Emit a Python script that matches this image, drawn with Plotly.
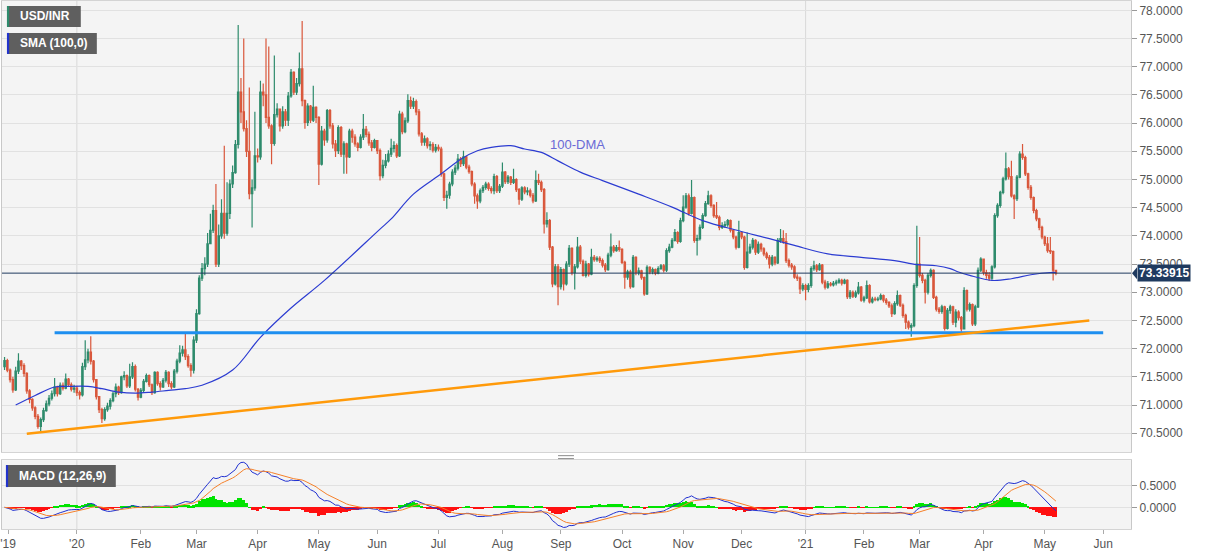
import numpy as np
import pandas as pd
import plotly.graph_objects as go

# ---------------- data ----------------
dates = pd.bdate_range("2019-11-26", "2021-05-07")  # daily candles (weekdays)

first_open = 71.68
close = [
    71.79, 71.62, 71.45, 71.27,
    71.60, 71.78, 71.70, 71.56, 71.25,
    71.10, 70.95, 70.80, 70.62, 70.74,
    70.90, 71.02, 71.12, 71.20, 71.32,
    71.20, 71.35, 71.30, 71.46, 71.36,
    71.28, 71.30, 71.22, 71.18, 71.68,
    71.80, 71.94, 71.78, 71.45, 71.15,
    70.92, 70.76, 70.92, 70.98, 71.08,
    71.20, 71.32, 71.22, 71.50, 71.52,
    71.34, 71.50, 71.68, 71.28, 71.14,
    71.26, 71.42, 71.52, 71.36, 71.22,
    71.58, 71.38, 71.32, 71.44, 71.58,
    71.38, 71.32, 71.60, 71.78, 71.92,
    71.98, 71.86, 71.70, 71.62, 72.15,
    72.62, 73.25, 73.42, 73.50, 73.86,
    74.10, 74.45, 73.50, 74.00, 74.40,
    74.05, 74.40, 74.92, 75.12, 75.62,
    76.55, 76.20, 75.90, 75.50, 74.75,
    74.85, 75.42, 75.40, 76.55, 76.50,
    76.10, 75.95, 75.64, 76.15, 76.25,
    75.95, 76.20, 76.05, 76.48, 76.90,
    76.55, 76.70, 76.96, 76.40, 76.01,
    76.30, 76.05, 76.28, 76.10, 75.27,
    75.86, 75.70, 76.22, 75.95, 75.63,
    75.51, 75.92, 75.45, 75.63, 75.40,
    75.86, 75.75, 75.63, 75.57, 75.75,
    75.89, 75.80, 75.65, 75.57, 75.69,
    75.51, 75.07, 75.25, 75.33, 75.45,
    75.55, 75.60, 75.42, 76.16, 75.85,
    76.04, 76.40, 76.30, 76.38, 76.20,
    75.81, 75.66, 75.72, 75.60, 75.62,
    75.52, 75.57, 75.54, 75.10, 74.68,
    74.72, 74.92, 75.13, 75.20, 75.36,
    75.28, 75.40, 75.22, 75.14, 74.92,
    74.71, 74.62, 74.80, 74.86, 74.92,
    74.84, 74.80, 75.05, 74.80, 74.88,
    75.13, 74.96, 75.04, 74.95, 75.00,
    74.82, 74.65, 74.85, 74.78, 74.80,
    74.72, 74.62, 74.98, 74.95, 74.82,
    74.21, 74.27, 73.80, 73.15, 73.45,
    73.10, 73.40, 73.15, 73.50, 73.78,
    73.35, 73.45, 73.80, 73.55, 73.30,
    73.50, 73.32, 73.62, 73.58, 73.60,
    73.56, 73.48, 73.40, 73.66, 73.80,
    73.74, 73.79, 73.76, 73.53, 73.27,
    73.36, 73.10, 73.62, 73.35, 73.38,
    73.26, 72.97, 73.44, 73.36, 73.40,
    73.34, 73.42, 73.47, 73.39, 73.74,
    73.80, 73.92, 74.06, 73.90, 74.27,
    74.51, 74.71, 74.40, 74.68, 73.92,
    73.95, 74.15, 74.36, 74.57, 74.71,
    74.54, 74.36, 74.33, 74.15, 74.18,
    74.20, 74.27, 74.10, 73.98, 73.80,
    74.06, 73.98, 73.44, 73.71, 73.80,
    73.92, 73.71, 73.85, 73.77, 73.68,
    73.62, 73.50, 73.62, 73.52, 73.92,
    73.95, 73.90, 73.56, 73.48, 73.45,
    73.27, 73.25, 73.06, 73.12, 73.05,
    73.12, 73.42, 73.47, 73.40, 73.48,
    73.18, 73.09, 73.15, 73.13, 73.16,
    73.18, 73.21, 73.16, 73.21, 72.92,
    73.00, 72.93, 72.99, 73.09, 72.86,
    72.90, 73.12, 72.83, 72.88, 72.87,
    72.88, 72.94, 72.86, 72.82, 72.76,
    72.62, 72.80, 72.94, 72.77, 72.59,
    72.47, 72.38, 72.41, 73.12, 73.50,
    73.30, 73.21, 73.00, 73.30, 73.39,
    72.91, 72.70, 72.66, 72.74, 72.36,
    72.68, 72.74, 72.47, 72.65, 72.55,
    72.35, 73.03, 72.70, 72.78, 72.44,
    72.74, 73.39, 73.59, 73.35, 73.30,
    73.25, 73.45, 74.36, 74.54, 74.77,
    75.01, 75.19, 75.05, 74.71, 74.66,
    75.04, 75.45, 75.39, 75.10, 74.86,
    74.68, 74.45, 74.30, 74.15, 73.98,
    73.86, 73.74, 73.72, 73.39, 73.33915,
]
high = [
    71.85, 71.82, 71.65, 71.50,
    71.68, 71.92, 71.80, 71.74, 71.58,
    71.28, 71.12, 70.98, 70.84, 70.78,
    70.95, 71.08, 71.18, 71.26, 71.48,
    71.34, 71.40, 71.40, 71.56, 71.48,
    71.40, 71.36, 71.34, 71.26, 71.75,
    72.15, 72.00, 72.22, 71.80, 71.46,
    71.16, 70.95, 70.96, 71.04, 71.12,
    71.24, 71.38, 71.34, 71.52, 71.60,
    71.54, 71.73, 71.76, 71.72, 71.30,
    71.30, 71.46, 71.56, 71.54, 71.38,
    71.60, 71.60, 71.42, 71.48, 71.62,
    71.60, 71.42, 71.64, 71.82, 72.06,
    72.05, 72.27, 71.90, 71.74, 72.22,
    72.70, 73.30, 73.52, 73.62, 74.05,
    74.39, 74.55, 74.92, 74.20, 74.65,
    75.60, 74.95, 75.00, 75.25, 75.70,
    77.74, 76.80, 77.50, 76.05, 76.63,
    75.00, 76.20, 75.55, 76.75, 76.70,
    77.50, 77.36, 75.98, 77.20, 76.35,
    76.25, 76.30, 76.25, 76.55, 76.96,
    76.92, 76.80, 77.25, 77.81, 76.42,
    76.35, 76.32, 76.66, 76.30, 76.12,
    75.95, 75.90, 76.25, 76.25, 76.00,
    75.70, 75.96, 75.95, 75.68, 75.65,
    75.90, 75.90, 75.80, 75.66, 75.80,
    76.16, 75.95, 75.85, 75.70, 75.72,
    75.70, 75.55, 75.35, 75.45, 75.52,
    75.72, 75.68, 75.64, 76.22, 76.20,
    76.10, 76.51, 76.47, 76.45, 76.42,
    76.25, 75.84, 75.78, 75.75, 75.68,
    75.66, 75.63, 75.62, 75.58, 75.12,
    74.80, 74.96, 75.18, 75.26, 75.45,
    75.40, 75.51, 75.42, 75.26, 75.16,
    74.95, 74.75, 74.84, 74.90, 74.96,
    74.95, 74.88, 75.10, 75.08, 74.92,
    75.30, 75.15, 75.08, 75.06, 75.19,
    75.02, 74.85, 74.88, 74.88, 74.86,
    74.84, 74.76, 75.16, 75.10, 74.98,
    74.85, 74.42, 74.30, 73.82, 73.50,
    73.50, 73.45, 73.42, 73.55, 73.84,
    73.80, 73.50, 73.98, 73.84, 73.58,
    73.56, 73.52, 73.77, 73.66, 73.64,
    73.64, 73.60, 73.52, 73.70, 74.04,
    73.84, 73.84, 73.92, 73.78, 73.56,
    73.40, 73.40, 73.66, 73.64, 73.44,
    73.40, 73.28, 73.48, 73.46, 73.44,
    73.42, 73.46, 73.50, 73.50, 73.78,
    73.86, 73.96, 74.12, 74.08, 74.32,
    74.72, 74.76, 74.75, 74.99, 74.70,
    74.02, 74.20, 74.40, 74.62, 74.80,
    74.74, 74.56, 74.60, 74.36, 74.24,
    74.26, 74.30, 74.29, 74.12, 74.00,
    74.27, 74.08, 74.00, 74.06, 73.86,
    73.96, 73.94, 73.90, 73.88, 73.80,
    73.72, 73.66, 73.66, 73.64, 73.96,
    74.12, 74.10, 74.05, 73.60, 73.52,
    73.48, 73.32, 73.28, 73.16, 73.15,
    73.16, 73.46, 73.56, 73.50, 73.52,
    73.50, 73.22, 73.20, 73.18, 73.20,
    73.22, 73.25, 73.24, 73.24, 73.23,
    73.04, 73.03, 73.03, 73.18, 73.11,
    72.94, 73.21, 73.14, 72.92, 72.92,
    72.92, 72.98, 72.96, 72.90, 72.84,
    72.80, 72.84, 73.03, 72.96, 72.80,
    72.62, 72.50, 72.45, 73.16, 74.18,
    73.98, 73.34, 73.24, 73.34, 73.42,
    73.41, 72.94, 72.74, 72.78, 72.76,
    72.72, 72.78, 72.76, 72.70, 72.68,
    72.58, 73.09, 73.05, 72.82, 72.80,
    72.78, 73.44, 73.62, 73.60, 73.40,
    73.36, 73.48, 74.40, 74.58, 74.80,
    75.05, 75.48, 75.22, 75.33, 74.74,
    75.08, 75.50, 75.63, 75.42, 75.12,
    74.90, 74.70, 74.48, 74.32, 74.18,
    74.00, 73.98, 73.98, 73.74, 73.40,
]
low = [
    71.62, 71.58, 71.40, 71.22,
    71.25, 71.55, 71.62, 71.50, 71.20,
    71.03, 70.90, 70.75, 70.58, 70.54,
    70.70, 70.88, 70.98, 71.08, 71.15,
    71.15, 71.18, 71.26, 71.28, 71.32,
    71.24, 71.22, 71.16, 71.10, 71.15,
    71.62, 71.74, 71.72, 71.40, 71.10,
    70.86, 70.68, 70.72, 70.88, 70.92,
    71.05, 71.14, 71.18, 71.20, 71.44,
    71.30, 71.30, 71.46, 71.24, 71.08,
    71.12, 71.22, 71.40, 71.32, 71.18,
    71.20, 71.34, 71.26, 71.30, 71.40,
    71.32, 71.28, 71.30, 71.56, 71.74,
    71.86, 71.80, 71.66, 71.50, 71.56,
    72.10, 72.60, 73.20, 73.30, 73.45,
    73.85, 74.05, 73.45, 73.45, 73.95,
    73.95, 74.00, 74.30, 74.85, 75.10,
    75.55, 76.00, 75.85, 75.40, 74.65,
    74.15, 74.80, 75.30, 75.35, 76.30,
    76.00, 75.90, 75.27, 75.60, 76.10,
    75.85, 75.90, 75.95, 75.95, 76.45,
    76.50, 76.50, 76.65, 76.30, 75.90,
    75.95, 76.00, 76.02, 76.00, 74.90,
    75.25, 75.60, 75.65, 75.90, 75.55,
    75.40, 75.45, 75.40, 75.10, 75.10,
    75.38, 75.65, 75.58, 75.50, 75.55,
    75.70, 75.75, 75.60, 75.50, 75.55,
    75.45, 74.98, 75.02, 75.20, 75.30,
    75.40, 75.48, 75.38, 75.40, 75.80,
    75.82, 76.00, 76.25, 76.25, 76.14,
    75.76, 75.60, 75.60, 75.55, 75.52,
    75.48, 75.48, 75.50, 75.05, 74.62,
    74.48, 74.66, 74.88, 75.08, 75.16,
    75.22, 75.24, 75.18, 75.10, 74.88,
    74.57, 74.48, 74.58, 74.76, 74.82,
    74.80, 74.75, 74.74, 74.76, 74.76,
    74.85, 74.92, 74.92, 74.90, 74.92,
    74.78, 74.55, 74.62, 74.74, 74.72,
    74.68, 74.58, 74.60, 74.90, 74.78,
    74.04, 74.15, 73.75, 73.09, 73.12,
    72.77, 73.05, 73.03, 73.12, 73.45,
    73.30, 73.05, 73.42, 73.50, 73.28,
    73.26, 73.28, 73.30, 73.54, 73.54,
    73.52, 73.44, 73.36, 73.38, 73.62,
    73.70, 73.72, 73.72, 73.50, 73.06,
    73.22, 73.06, 73.08, 73.30, 73.30,
    73.22, 72.94, 72.95, 73.32, 73.32,
    73.30, 73.32, 73.40, 73.35, 73.36,
    73.70, 73.78, 73.90, 73.86, 73.88,
    74.24, 74.48, 74.36, 74.38, 73.88,
    73.65, 73.92, 74.12, 74.34, 74.55,
    74.50, 74.32, 74.30, 74.10, 74.12,
    74.14, 74.16, 74.06, 73.94, 73.76,
    73.78, 73.94, 73.40, 73.42, 73.68,
    73.76, 73.66, 73.68, 73.72, 73.64,
    73.58, 73.42, 73.46, 73.48, 73.50,
    73.88, 73.86, 73.52, 73.44, 73.40,
    73.24, 73.20, 72.97, 73.02, 72.86,
    73.00, 73.08, 73.38, 73.36, 73.38,
    73.14, 73.05, 73.06, 73.10, 73.10,
    73.12, 73.15, 73.12, 73.14, 72.88,
    72.88, 72.90, 72.90, 72.96, 72.83,
    72.82, 72.88, 72.80, 72.80, 72.84,
    72.84, 72.86, 72.82, 72.78, 72.72,
    72.56, 72.60, 72.76, 72.74, 72.55,
    72.35, 72.34, 72.21, 72.38, 73.08,
    73.26, 73.16, 72.80, 72.96, 73.26,
    72.88, 72.66, 72.62, 72.62, 72.32,
    72.34, 72.62, 72.42, 72.38, 72.50,
    72.30, 72.34, 72.66, 72.66, 72.40,
    72.40, 72.72, 73.36, 73.30, 73.24,
    73.20, 73.22, 73.42, 74.32, 74.50,
    74.74, 74.98, 75.00, 74.68, 74.30,
    74.62, 75.02, 75.35, 75.06, 74.82,
    74.64, 74.40, 74.26, 74.10, 73.94,
    73.82, 73.70, 73.68, 73.21, 73.30,
]

# 100-day SMA (candle index, value)
sma_idx = [4, 11, 18, 23, 30, 35, 41, 47, 53, 59, 65, 71, 82, 92, 103, 115,
           135, 139, 147, 157, 164, 170, 175, 182, 187, 193, 199, 207, 215,
           228, 240, 251, 264, 275, 284, 296, 308, 320, 328, 335, 340, 343,
           347, 355, 362, 369, 376, 378]
sma_val = [71.00, 71.17, 71.32, 71.33, 71.33, 71.29, 71.23, 71.21, 71.23,
           71.26, 71.29, 71.35, 71.62, 72.20, 72.72, 73.21,
           74.12, 74.30, 74.74, 75.10, 75.36, 75.51, 75.57, 75.60, 75.54,
           75.48, 75.33, 75.13, 74.98,
           74.74, 74.51, 74.27, 74.09, 73.95, 73.83, 73.68, 73.62, 73.56,
           73.49, 73.47, 73.42, 73.36,
           73.30, 73.21, 73.24, 73.31, 73.35, 73.35]

support_dates = ["2019-12-20", "2021-06-01"]
support_vals = [72.28, 72.28]
trend_dates = ["2019-12-06", "2021-05-25"]
trend_vals = [70.49, 72.50]
last_price = 73.33915

tick_dates = ["2019-11-27 06:00", "2020-01-01", "2020-02-03", "2020-03-02", "2020-04-01",
              "2020-05-01", "2020-06-01", "2020-07-01", "2020-08-03", "2020-09-01",
              "2020-10-01", "2020-11-02", "2020-12-01", "2021-01-01", "2021-02-01",
              "2021-03-01", "2021-04-01", "2021-05-03", "2021-06-01"]
tick_text = ["'19", "'20", "Feb", "Mar", "Apr", "May", "Jun", "Jul", "Aug", "Sep",
             "Oct", "Nov", "Dec", "'21", "Feb", "Mar", "Apr", "May", "Jun"]
price_ticks = [70.5, 71.0, 71.5, 72.0, 72.5, 73.0, 73.5, 74.0, 74.5, 75.0,
               75.5, 76.0, 76.5, 77.0, 77.5, 78.0]
macd_ticks = [0.0, 0.5]

# ---------------- derived ----------------
assert len(dates) == len(close) == len(high) == len(low)
c = np.array(close)
o = np.array([first_open] + close[:-1])
h = np.maximum.reduce([np.array(high), o, c])
l = np.minimum.reduce([np.array(low), o, c])

s = pd.Series(c)
ema12 = s.ewm(span=12, adjust=False).mean()
ema26 = s.ewm(span=26, adjust=False).mean()
macd = ema12 - ema26
signal = macd.ewm(span=9, adjust=False).mean()
hist = macd - signal
hist_colors = np.where(hist >= 0, "#00e400", "#ff1010")

GREEN = "#2e8b6c"
RED = "#d9573b"
FONT = "Liberation Sans, Arial, sans-serif"
X_RANGE = ["2019-11-25 02:00", "2021-06-15"]
BREAKS = [dict(bounds=["sat", "mon"])]

fig = go.Figure()
fig.add_trace(go.Candlestick(
    x=dates, open=o, high=h, low=l, close=c,
    increasing=dict(line=dict(color=GREEN, width=1.2), fillcolor=GREEN),
    decreasing=dict(line=dict(color=RED, width=1.2), fillcolor=RED),
    whiskerwidth=0, xaxis="x", yaxis="y", showlegend=False, name="USD/INR"))
fig.add_trace(go.Scatter(x=dates[sma_idx], y=sma_val, mode="lines",
                         line=dict(color="#2b3bd1", width=1.2, shape="spline"),
                         xaxis="x", yaxis="y", showlegend=False))
fig.add_trace(go.Scatter(x=support_dates, y=support_vals, mode="lines",
                         line=dict(color="#1e8ff0", width=3),
                         xaxis="x", yaxis="y", showlegend=False))
fig.add_trace(go.Scatter(x=trend_dates, y=trend_vals, mode="lines",
                         line=dict(color="#ff9a0a", width=2.5),
                         xaxis="x", yaxis="y", showlegend=False))
fig.add_trace(go.Bar(x=dates, y=hist, marker=dict(color=hist_colors, line=dict(width=0)),
                     xaxis="x2", yaxis="y2", showlegend=False))
fig.add_trace(go.Scatter(x=dates, y=macd, mode="lines",
                         line=dict(color="#2030d0", width=1),
                         xaxis="x2", yaxis="y2", showlegend=False))
fig.add_trace(go.Scatter(x=dates, y=signal, mode="lines",
                         line=dict(color="#f5802a", width=1),
                         xaxis="x2", yaxis="y2", showlegend=False))

axis_font = dict(family=FONT, size=12, color="#555555")
fig.update_layout(
    width=1207, height=555,
    margin=dict(l=0, r=76, t=0, b=26),
    paper_bgcolor="white", plot_bgcolor="#f4f4f4",
    bargap=0, font=dict(family=FONT),
    xaxis=dict(domain=[0, 1], anchor="y", range=X_RANGE, rangebreaks=BREAKS,
               showticklabels=False, showgrid=False, zeroline=False, ticks="",
               rangeslider=dict(visible=False), showline=True, mirror=True,
               linecolor="#d4d4d4"),
    xaxis2=dict(domain=[0, 1], anchor="y2", range=X_RANGE, rangebreaks=BREAKS,
                tickvals=tick_dates, ticktext=tick_text, ticks="outside", ticklen=4,
                tickcolor="#aaaaaa", tickfont=axis_font, showgrid=False,
                ticklabeloverflow="allow",
                zeroline=False, showline=True, mirror=True, linecolor="#d4d4d4"),
    yaxis=dict(domain=[0.1456, 1], anchor="x", range=[70.165, 78.165], side="right",
               tickvals=price_ticks, ticktext=[f"{v:.4f}" for v in price_ticks],
               ticks="outside", ticklen=5, tickcolor="#999999", tickfont=axis_font,
               gridcolor="#e1e1e1", zeroline=False, showline=True, mirror=True,
               linecolor="#c8c8c8"),
    yaxis2=dict(domain=[0, 0.1304], anchor="x2", range=[-0.498, 1.085], side="right",
                tickvals=macd_ticks, ticktext=[f"{v:.4f}" for v in macd_ticks],
                ticks="outside", ticklen=5, tickcolor="#999999", tickfont=axis_font,
                gridcolor="#e1e1e1", zeroline=False, showline=True, mirror=True,
                linecolor="#c8c8c8"),
)

shapes = []
# year separators
for d in ["2020-01-01", "2021-01-01"]:
    shapes.append(dict(type="line", xref="x", yref="y domain", x0=d, x1=d, y0=0, y1=1,
                       line=dict(color="#d8d8d8", width=1), layer="below"))
    shapes.append(dict(type="line", xref="x2", yref="y2 domain", x0=d, x1=d, y0=0, y1=1,
                       line=dict(color="#d8d8d8", width=1), layer="below"))
# current price line
shapes.append(dict(type="line", xref="x domain", yref="y", x0=0, x1=1,
                   y0=last_price, y1=last_price, line=dict(color="#1f3a5f", width=1)))
# price label pointer
shapes.append(dict(type="path", xref="paper", yref="y", xsizemode="pixel",
                   ysizemode="pixel", xanchor=1, yanchor=last_price,
                   path="M 1 0 L 6 -6 L 6 6 Z", fillcolor="#1f3a5f",
                   line=dict(width=0)))
# pane separator handle
for yp in [0.1389, 0.1333]:
    shapes.append(dict(type="line", xref="paper", yref="paper", x0=0.4925, x1=0.5066,
                       y0=yp, y1=yp, line=dict(color="#8a8a8a", width=1)))


# legend boxes
def tag(x0, x1, y0, y1, accent, text):
    shapes.append(dict(type="rect", xref="paper", yref="paper", x0=x0, x1=x1,
                       y0=y0, y1=y1, fillcolor="#5f5f5f", line=dict(width=0)))
    shapes.append(dict(type="rect", xref="paper", yref="paper", x0=x0, x1=x0 + 0.0019,
                       y0=y0, y1=y1, fillcolor=accent, line=dict(width=0)))
    fig.add_annotation(xref="paper", yref="paper", x=x0 + 0.0097, y=(y0 + y1) / 2,
                       xanchor="left", yanchor="middle", showarrow=False,
                       text=f"<b>{text}</b>",
                       font=dict(family=FONT, size=12, color="white"))


tag(0.0044, 0.0698, 0.9509, 0.9905, GREEN, "USD/INR")
tag(0.0044, 0.0840, 0.8998, 0.9395, "#2233cc", "SMA (100,0)")
tag(0.0035, 0.1008, 0.0794, 0.1210, "#2233cc", "MACD (12,26,9)")

fig.update_layout(shapes=shapes)

fig.add_annotation(xref="paper", yref="y", x=1, y=last_price, xanchor="left",
                   xshift=6, showarrow=False, text=f"<b>{last_price:.5f}</b>",
                   bgcolor="#1f3a5f", borderpad=1,
                   font=dict(family=FONT, size=12, color="white"))
fig.add_annotation(xref="x", yref="y", x=dates[206], y=75.62, showarrow=False,
                   text="100-DMA", font=dict(family=FONT, size=13, color="#6a6ad6"))

fig.write_html("out.html", config={"displayModeBar": False},
               post_script="document.body.style.margin='0';document.body.style.padding='0';")
